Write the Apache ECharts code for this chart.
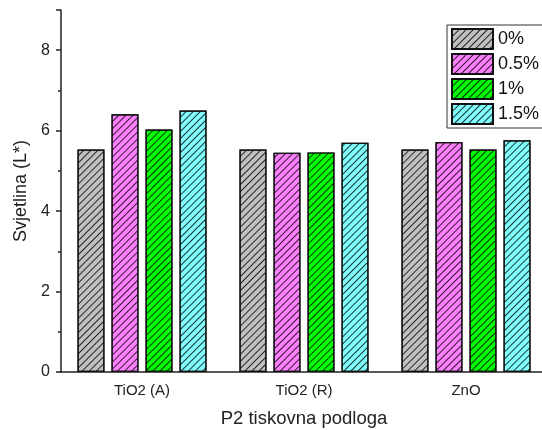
<!DOCTYPE html>
<html>
<head>
<meta charset="utf-8">
<script src="https://cdn.jsdelivr.net/npm/echarts@6/dist/echarts.min.js"></script>
<style>html,body{margin:0;padding:0;background:#fff;}#c{width:542px;height:430px;}</style>
</head>
<body>
<div id="c"></div>
<script>
const categories = ['TiO2 (A)', 'TiO2 (R)', 'ZnO'];
const seriesNames = ['0%', '0.5%', '1%', '1.5%'];
const s0 = [5.53, 5.53, 5.53];
const s05 = [6.41, 5.45, 5.72];
const s1 = [6.03, 5.46, 5.53];
const s15 = [6.50, 5.70, 5.76];
const colors = ['#c0c0c0', '#ff80ff', '#00ff00', '#80ffff'];
const values = [s0, s05, s1, s15];

const FONT = '"Liberation Sans", Arial, sans-serif';
const chart = echarts.init(document.getElementById('c'));
const decal = {
  symbol: 'rect', symbolSize: 1, color: 'rgba(0,0,0,0.8)',
  dashArrayX: [1, 0], dashArrayY: [1, 3.2], rotation: -Math.PI / 4
};
chart.setOption({
  animation: false,
  textStyle: { fontFamily: FONT },
  grid: { left: 61, top: 10, width: 486, height: 362, outerBoundsMode: 'none', containLabel: false },
  legend: {
    orient: 'vertical', left: 447, top: 25, icon: 'rect',
    itemWidth: 41, itemHeight: 20, itemGap: 3, padding: [3, 20, 3, 4],
    borderColor: '#333', borderWidth: 1,
    textStyle: { fontSize: 18, color: '#111', fontFamily: FONT },
    data: seriesNames
  },
  xAxis: [{
    type: 'category', data: categories,
    axisLine: { lineStyle: { color: '#222', width: 1.5 } },
    axisTick: { alignWithLabel: true, length: 5, lineStyle: { color: '#222', width: 1.5 } },
    axisLabel: { fontSize: 15, color: '#222', margin: 11, fontFamily: FONT },
    name: 'P2 tiskovna podloga', nameLocation: 'middle', nameGap: 37,
    nameTextStyle: { fontSize: 18.5, color: '#222', fontFamily: FONT }
  }, {
    type: 'category', data: categories, position: 'bottom',
    axisLine: { show: false },
    axisTick: { length: 3, lineStyle: { color: '#222', width: 1.5 } },
    axisLabel: { show: false }
  }],
  yAxis: {
    type: 'value', min: 0, max: 9, interval: 2,
    axisLine: { show: true, lineStyle: { color: '#222', width: 1.5 } },
    axisTick: { show: true, length: 5, lineStyle: { color: '#222', width: 1.5 } },
    minorTick: { show: true, splitNumber: 2, length: 3, lineStyle: { color: '#222', width: 1.5 } },
    splitLine: { show: false },
    axisLabel: { fontSize: 16, color: '#222', margin: 11, fontFamily: FONT, showMaxLabel: false },
    name: 'Svjetlina (L*)', nameLocation: 'middle', nameGap: 31, nameRotate: 90,
    nameTextStyle: { fontSize: 18, color: '#222', fontFamily: FONT }
  },
  series: seriesNames.map((n, i) => ({
    name: n, type: 'bar', data: values[i], xAxisIndex: 0,
    barWidth: 27, barGap: '26%',
    itemStyle: { color: colors[i], borderColor: '#111', borderWidth: 1.2, decal: decal }
  }))
});
</script>
</body>
</html>
